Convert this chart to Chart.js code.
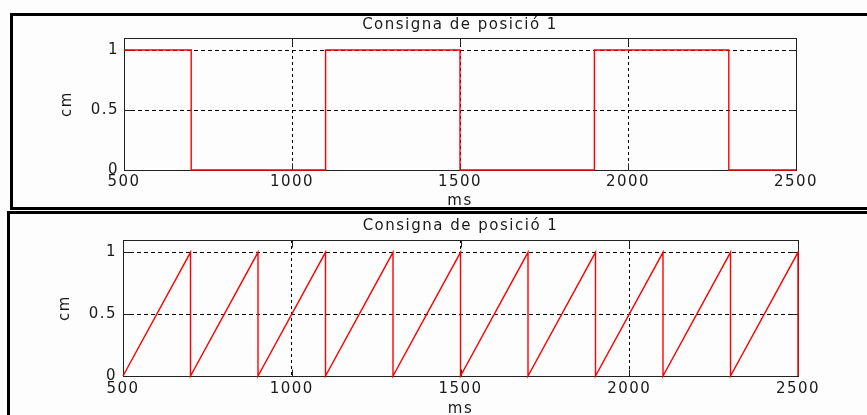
<!DOCTYPE html>
<html>
<head>
<meta charset="utf-8">
<script src="https://cdn.jsdelivr.net/npm/chart.js@4.4.1/dist/chart.umd.min.js"></script>
<style>
  body { margin: 0; width: 867px; height: 415px; overflow: hidden; position: relative; background: #fdfdfd; }
  .frame { position: absolute; border: 3px solid #000; border-right: none; }
  #f1 { left: 10px; top: 13px; width: 900px; height: 191px; }
  #f2 { left: 7px; top: 211px; width: 900px; height: 260px; border-bottom: none; }
  canvas { position: absolute; left: 0; }
  #c1 { top: 0; }
  #c2 { top: 210px; }
</style>
</head>
<body>
<div class="frame" id="f1"></div>
<div class="frame" id="f2"></div>
<canvas id="c1" width="867" height="212"></canvas>
<canvas id="c2" width="867" height="210"></canvas>
<script>
// textos
const chartTitle = 'Consigna de posició 1';
const xLabel = 'ms';
const yLabel = 'cm';

// eixos
const xTicks = [500, 1000, 1500, 2000, 2500];
const yTicks = [0, 0.5, 1];

// senyal quadrat (gràfic de dalt)
const squareTime = [500, 700, 700, 1100, 1100, 1500, 1500, 1900, 1900, 2300, 2300, 2500];
const squarePos  = [1,   1,   0,   0,    1,    1,    0,    0,    1,    1,    0,    0];

// dent de serra (gràfic de baix)
const sawTime = [500, 700, 700, 900, 900, 1100, 1100, 1300, 1300, 1500, 1500,
                 1700, 1700, 1900, 1900, 2100, 2100, 2300, 2300, 2500, 2500];
const sawPos  = [0, 1, 0, 1, 0, 1, 0, 1, 0, 1, 0,
                 1, 0, 1, 0, 1, 0, 1, 0, 1, 0];

const textColor = '#1a1a1a';
const font = { family: 'DejaVu Sans', size: 15, weight: 'normal', lineHeight: 1.2 };

// espaiat de lletres, com l'original
const spacing = {
  id: 'spacing',
  beforeUpdate(chart) { chart.ctx.letterSpacing = '1.5px'; },
  beforeDraw(chart) { chart.ctx.letterSpacing = '1.5px'; }
};

// caixa dels eixos + marques cap a dins (estil Matlab)
const axesBox = {
  id: 'axesBox',
  beforeDatasetsDraw(chart) {
    const { ctx, chartArea: a, scales } = chart;
    const L = Math.round(a.left) + 0.5, R = Math.round(a.right) + 0.5;
    const T = Math.round(a.top) + 0.5, B = Math.round(a.bottom) + 0.5;
    const len = 7;
    ctx.save();
    ctx.setLineDash([]);
    ctx.strokeStyle = '#222';
    ctx.lineWidth = 1;
    ctx.strokeRect(L, T, R - L, B - T);
    ctx.beginPath();
    scales.x.ticks.forEach(t => {
      const px = Math.round(scales.x.getPixelForValue(t.value)) + 0.5;
      ctx.moveTo(px, B); ctx.lineTo(px, B - len);
      ctx.moveTo(px, T); ctx.lineTo(px, T + len);
    });
    scales.y.ticks.forEach(t => {
      const py = Math.round(scales.y.getPixelForValue(t.value)) + 0.5;
      ctx.moveTo(L, py); ctx.lineTo(L + len, py);
      ctx.moveTo(R, py); ctx.lineTo(R - len, py);
    });
    ctx.stroke();
    ctx.restore();
  }
};

function makeChart(id, times, values, o) {
  const points = times.map((t, i) => ({ x: t, y: values[i] }));
  return new Chart(document.getElementById(id), {
    type: 'scatter',
    data: {
      datasets: [{
        data: points,
        showLine: true,
        borderColor: 'rgb(255,0,0)',
        borderWidth: 1.4,
        pointRadius: 0,
        tension: 0,
        clip: false
      }]
    },
    options: {
      responsive: false,
      animation: false,
      layout: { padding: { left: 0, top: 0, bottom: 0, right: o.right } },
      plugins: {
        legend: { display: false },
        tooltip: { enabled: false },
        title: {
          display: true,
          text: chartTitle,
          fullSize: false,
          color: textColor,
          font,
          padding: { top: o.titleTop, bottom: o.titleBottom }
        }
      },
      scales: {
        x: {
          type: 'linear',
          min: 500,
          max: 2500,
          afterBuildTicks: s => { s.ticks = xTicks.map(v => ({ value: v })); },
          afterFit: s => { s.height = o.xHeight; },
          grid: { color: '#000', lineWidth: 1, drawTicks: false },
          border: { display: false, dash: [3, 3] },
          ticks: { color: textColor, font, padding: o.xPad, maxRotation: 0, autoSkip: false, callback: v => String(v) },
          title: { display: true, text: xLabel, color: textColor, font, padding: { top: 0, bottom: o.msPad } }
        },
        y: {
          type: 'linear',
          min: 0,
          max: 1.1,
          afterBuildTicks: s => { s.ticks = yTicks.map(v => ({ value: v })); },
          afterFit: s => { s.width = o.yWidth; },
          grid: { color: '#000', lineWidth: 1, drawTicks: false },
          border: { display: false, dash: [4, 3] },
          ticks: { color: textColor, font, padding: o.yPad, callback: v => String(v) },
          title: { display: true, text: yLabel, color: textColor, font, padding: { top: o.cmPad, bottom: 0 } }
        }
      }
    },
    plugins: [spacing, axesBox]
  });
}

makeChart('c1', squareTime, squarePos, {
  right: 71, titleTop: 16, titleBottom: 4, xHeight: 42, xPad: 3, msPad: 1.5, yWidth: 124, yPad: 5, cmPad: 58.5
});
makeChart('c2', sawTime, sawPos, {
  right: 69, titleTop: 7, titleBottom: 5, xHeight: 44, xPad: 4, msPad: 1.5, yWidth: 123, yPad: 6, cmPad: 56
});
</script>
</body>
</html>
